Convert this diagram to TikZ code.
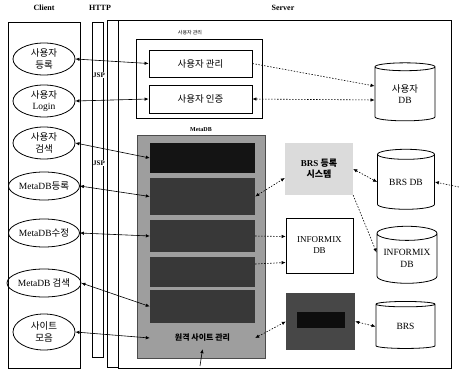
\documentclass[tikz,border=0pt]{standalone}
\usepackage{fontspec}
\setmainfont{Liberation Serif}
\newfontfamily\kr{Noto Sans CJK KR}
\usetikzlibrary{positioning,arrows.meta,shapes.geometric}
\tikzset{
  frame/.style={draw,line width=0.8pt},
  title/.style={font=\bfseries\fontsize{8}{9}\selectfont,inner sep=1pt},
  usecase/.style={draw,ellipse,line width=0.8pt,minimum width=62pt,minimum height=32pt,inner sep=0pt,align=center,font=\kr\fontsize{9.5}{11.5}\selectfont},
  plainbox/.style={draw,fill=white,line width=0.8pt,inner sep=1pt,align=center,font=\kr\fontsize{9.5}{11.5}\selectfont},
  metadb/.style={draw=black!70,fill=black!38,line width=0.6pt,inner sep=0pt},
  bardark/.style={fill=black!78,inner sep=0pt,minimum width=105pt},
  graybox/.style={fill=black!14,inner sep=1pt,align=center,font=\kr\bfseries\fontsize{9}{11}\selectfont},
  darkbox/.style={fill=black!72,inner sep=0pt},
  dbstore/.style={draw,fill=white,cylinder,shape border rotate=90,aspect=0.3,line width=0.8pt,inner sep=0pt,align=center,font=\fontsize{9.5}{11.5}\selectfont},
  link/.style={{Latex[length=4pt,width=3.5pt]}-{Latex[length=4pt,width=3.5pt]},line width=0.6pt},
  dlink/.style={-{Latex[length=4pt,width=3.5pt]},line width=0.6pt,dash pattern=on 1.5pt off 1.5pt},
  ddlink/.style={{Latex[length=4pt,width=3.5pt]}-{Latex[length=4pt,width=3.5pt]},line width=0.6pt,dash pattern=on 1.5pt off 1.5pt}
}
\begin{document}
\begin{tikzpicture}[x=1pt,y=-1pt,node distance=4pt]
  \useasboundingbox[fill=white] (0,0) rectangle (459,378);
  % three columns
  \draw[frame] (8,22) rectangle (80,368);
  \draw[frame] (92,22) rectangle (103,357);
  \draw[frame] (107,20) rectangle (118,367);
  \draw[frame] (118,20) rectangle (451,368);
  \node[title] (client) at (44,8) {Client};
  \node[title] (http) at (100,8) {HTTP};
  \node[title] (server) at (283,8) {Server};
  \node[title,fill=white,font=\bfseries\fontsize{7}{8}\selectfont,inner sep=0.5pt] (jsp1) at (99,75) {JSP};
  \node[title,fill=white,font=\bfseries\fontsize{7}{8}\selectfont,inner sep=0.5pt] (jsp2) at (99,163) {JSP};

  % client use cases
  \node[usecase] (reg) at (44,59) {사용자\\등록};
  \node[usecase] (login) at (44,101) {사용자\\{\rmfamily Login}};
  \node[usecase] (srch) at (44,143) {사용자\\검색};
  \node[usecase,minimum height=28pt] (mreg) at (44,186) {{\rmfamily MetaDB}등록};
  \node[usecase,minimum height=28pt] (mmod) at (44,233) {{\rmfamily MetaDB}수정};
  \node[usecase,minimum height=28pt] (msrch) at (44,283) {{\rmfamily MetaDB} 검색};
  \node[usecase,minimum height=36pt] (site) at (44,332) {사이트\\모음};

  % user management
  \draw[frame] (136,39) rectangle (262,118);
  \node[font=\kr\fontsize{5}{6}\selectfont,inner sep=0pt] (ugroup) at (190,33) {사용자 관리};
  \node[plainbox,minimum width=103pt,minimum height=27pt] (umgr) at (200.5,63.5) {사용자 관리};
  \node[plainbox,minimum width=103pt,minimum height=28pt] (uauth) at (200.5,99) {사용자 인증};

  % MetaDB
  \node[metadb,minimum width=128pt,minimum height=223pt] (mdb) at (201,246.5) {};
  \node[title,font=\bfseries\fontsize{6}{7}\selectfont] (mdblabel) at (201,130) {MetaDB};
  \node[bardark,fill=black!92,minimum height=30pt] (bar1) at (202.5,158) {};
  \node[bardark,minimum height=37pt] (bar2) at (202.5,196.5) {};
  \node[bardark,minimum height=32pt] (bar3) at (202.5,236) {};
  \node[bardark,minimum height=30pt] (bar4) at (202.5,272) {};
  \node[bardark,minimum height=33pt] (bar5) at (202.5,306.5) {};
  \node[bardark,fill=none,minimum height=22pt,font=\kr\bfseries\fontsize{8}{9}\selectfont] (bot) at (202.5,338) {원격 사이트 관리};

  % back-end systems
  \node[graybox,minimum width=68pt,minimum height=52pt] (brsreg) at (319,169) {{\rmfamily BRS} 등록\\시스템};
  \node[plainbox,font=\fontsize{9}{11}\selectfont,minimum width=67pt,minimum height=55pt] (inf) at (319.5,245.5) {INFORMIX\\DB};
  \node[darkbox,minimum width=69pt,minimum height=57pt] (proc) at (320.5,321.5) {};
  \fill[black!95] (297,312) rectangle (345,328);

  % data stores
  \node[dbstore,minimum width=60pt,minimum height=58pt,font=\kr\fontsize{9.5}{11.5}\selectfont] (udb) at (405,94) {사용자\\{\rmfamily DB}};
  \node[dbstore,minimum width=57pt,minimum height=60pt] (brsdb) at (406,182) {BRS DB};
  \node[dbstore,minimum width=60pt,minimum height=57pt] (infdb) at (407,258.5) {INFORMIX\\DB};
  \node[dbstore,minimum width=59pt,minimum height=47pt] (brs) at (405.5,326.5) {BRS};
  \coordinate (outside) at (459,187);
  \coordinate (floor) at (200,366);

  % client to server
  \draw[link] (reg.east) -- (umgr.west);
  \draw[link] (login.east) -- (uauth.west);
  \draw[link] (srch.east) -- (bar1.west);
  \draw[link] (mreg.east) -- (bar2.west);
  \draw[link] (mmod.east) -- (bar3.west);
  \draw[link] (msrch.east) -- (bar5.west);
  \draw[link] (site.east) -- (bot.west);

  % inside the server
  \draw[dlink] (umgr.east) -- ([yshift=8pt]udb.west);
  \draw[ddlink] (uauth.east) -- ([yshift=-6pt]udb.west);
  \draw[ddlink] (bar2.east) -- ([yshift=-9pt]brsreg.west);
  \draw[ddlink] (brsreg.east) -- (brsdb.west);
  \draw[dlink] (brsreg.south east) -- ([yshift=6pt]infdb.west);
  \draw[dlink] (outside) -- (brsdb.east);
  \draw[dlink] (bar3.east) -- ([yshift=9pt]inf.west);
  \draw[dlink] ([yshift=8pt]bar4.east) -- ([yshift=-17pt]inf.west);
  \draw[ddlink] (bot.east) -- (proc.west);
  \draw[ddlink] (proc.east) -- (brs.west);
  \draw[-{Latex[length=4pt,width=3.5pt]},line width=0.6pt] (floor) -- (bot.south);
\end{tikzpicture}
\end{document}
